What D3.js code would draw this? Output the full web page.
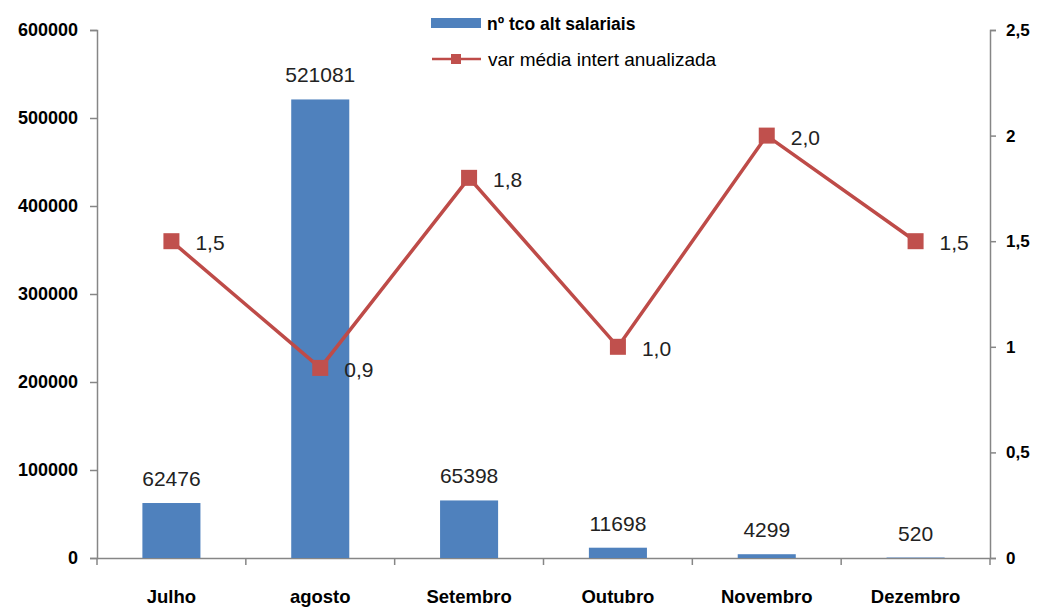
<!DOCTYPE html>
<html>
<meta charset="utf-8">
<style>
body{ margin:0; background:#fff; }
.tick text{ font-family:"Liberation Sans Narrow","Liberation Sans",sans-serif; font-weight:bold; font-size:18px; fill:#000; }
.val{ font-family:"Liberation Sans","DejaVu Sans",sans-serif; font-size:21px; fill:#222; }
.leg{ font-family:"Liberation Sans Narrow","Liberation Sans",sans-serif; font-size:19px; fill:#000; }
</style>
<body>
<svg width="1040" height="607"></svg>
<script src="https://cdnjs.cloudflare.com/ajax/libs/d3/7.8.5/d3.min.js"></script>
<script>

var months = ["Julho", "agosto", "Setembro", "Outubro", "Novembro", "Dezembro"];
var counts = [62476, 521081, 65398, 11698, 4299, 520];
var rates = [1.5, 0.9, 1.8, 1.0, 2.0, 1.5];
var leftTicks = [0, 100000, 200000, 300000, 400000, 500000, 600000];
var rightTicks = [0, 0.5, 1, 1.5, 2, 2.5];

var svg = d3.select("svg"),
    mLeft = 97, mRight = 990, mTop = 30, mBottom = 558;

var x = d3.scaleBand().domain(months).range([mLeft, mRight]);
var y = d3.scaleLinear().domain([0, 600000]).range([mBottom, mTop]);
var y2 = d3.scaleLinear().domain([0, 2.5]).range([mBottom, mTop]);
var fmt = function(v){ return String(v).replace(".", ","); };

// axes
var ax = svg.append("g").attr("transform", "translate(" + mLeft + ",0)")
    .call(d3.axisLeft(y).tickValues(leftTicks).tickSize(7).tickPadding(12).tickFormat(d3.format("d")));
var ax2 = svg.append("g").attr("transform", "translate(" + mRight + ",0)")
    .call(d3.axisRight(y2).tickValues(rightTicks).tickSize(6).tickPadding(10).tickFormat(fmt));
ax2.selectAll(".tick text").style("font-size", "17px");

var xa = svg.append("g").attr("transform", "translate(0," + mBottom + ")")
    .call(d3.axisBottom(x).tickSize(0).tickPadding(32));
xa.selectAll(".tick line").remove();
xa.selectAll(".tick text").style("font-size", "18.5px");
xa.selectAll(".boundary").data(months.concat(["end"])).enter().append("line")
    .attr("x1", function(d, i){ return mLeft + i * x.step(); })
    .attr("x2", function(d, i){ return mLeft + i * x.step(); })
    .attr("y1", 0).attr("y2", 7);

svg.selectAll(".domain, line").attr("stroke", "#868686").attr("stroke-width", 1.5);

// bars
var bw = x.bandwidth() * 0.39;
svg.selectAll(".bar").data(counts).enter().append("rect")
    .attr("x", function(d, i){ return x(months[i]) + x.bandwidth() / 2 - bw / 2; })
    .attr("y", function(d){ return y(d); })
    .attr("width", bw)
    .attr("height", function(d){ return mBottom - y(d); })
    .attr("fill", "#4f81bd");

svg.selectAll(".bl").data(counts).enter().append("text")
    .attr("class", "val")
    .attr("text-anchor", "middle")
    .attr("x", function(d, i){ return x(months[i]) + x.bandwidth() / 2; })
    .attr("y", function(d){ return y(d) - 17; })
    .text(function(d){ return d; });

// line
var cx = function(d, i){ return x(months[i]) + x.bandwidth() / 2; };
var line = d3.line().x(cx).y(function(d){ return y2(d); });
svg.append("path").datum(rates)
    .attr("d", line).attr("fill", "none")
    .attr("stroke", "#be4b48").attr("stroke-width", 3.5);

svg.selectAll(".pt").data(rates).enter().append("rect")
    .attr("x", function(d, i){ return cx(d, i) - 8; })
    .attr("y", function(d){ return y2(d) - 8; })
    .attr("width", 16).attr("height", 16)
    .attr("fill", "#c0504d");

svg.selectAll(".ll").data(rates).enter().append("text")
    .attr("class", "val")
    .attr("x", function(d, i){ return cx(d, i) + 24; })
    .attr("y", function(d){ return y2(d) + 9; })
    .text(function(d){ return d.toFixed(1).replace(".", ","); });

// legend
var lg = svg.append("g");
lg.append("rect").attr("x", 431).attr("y", 18).attr("width", 50).attr("height", 10).attr("fill", "#4f81bd");
lg.append("text").attr("class", "leg").attr("x", 487).attr("y", 30)
    .style("font-weight", "bold").style("font-size", "17.5px").text("nº tco alt salariais");
lg.append("line").attr("x1", 432).attr("x2", 481).attr("y1", 59).attr("y2", 59)
    .attr("stroke", "#be4b48").attr("stroke-width", 2.5);
lg.append("rect").attr("x", 451).attr("y", 54).attr("width", 10).attr("height", 10).attr("fill", "#c0504d");
lg.append("text").attr("class", "leg").attr("x", 488).attr("y", 66).text("var média intert anualizada");

</script>
</body>
</html>
